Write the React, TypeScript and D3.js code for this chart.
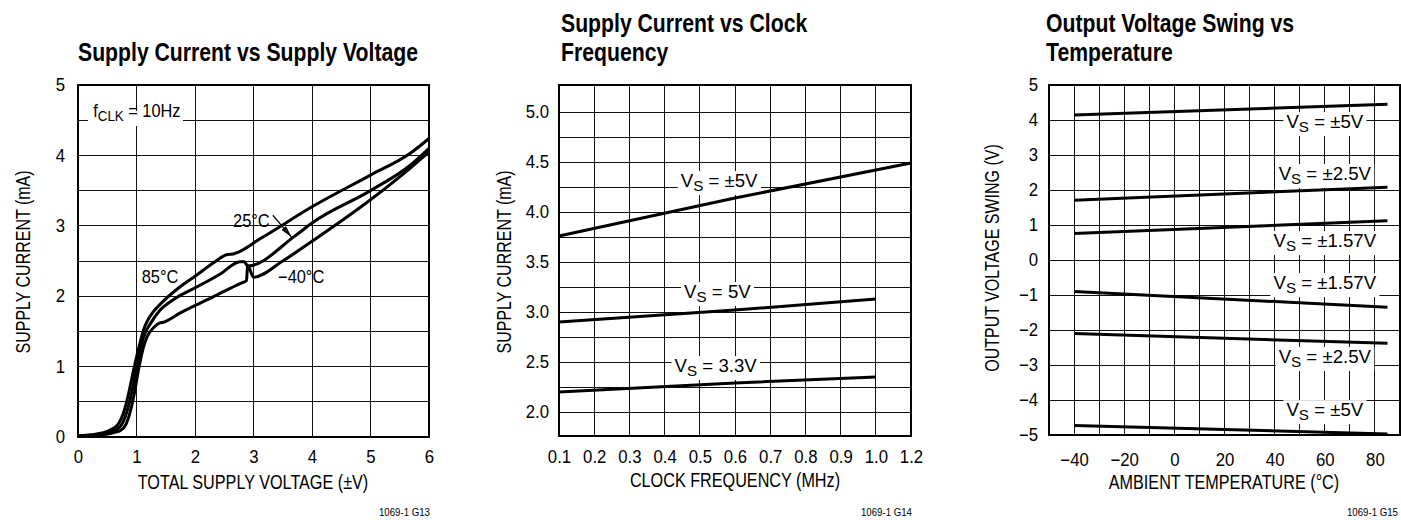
import React, { useEffect, useRef } from 'react';
import * as d3 from 'd3';

// panel 1: supply current (mA) vs total supply voltage (V), fCLK = 10Hz
const p1XTicks = [0, 1, 2, 3, 4, 5, 6];
const p1YTicks = [0, 1, 2, 3, 4, 5];
const p1Hot = [
  [0, 0.02], [0.3, 0.04], [0.5, 0.08], [0.6, 0.12], [0.7, 0.2], [0.78, 0.35], [0.86, 0.6],
  [0.95, 0.95], [1.05, 1.3], [1.12, 1.52], [1.18, 1.64], [1.29, 1.78], [1.46, 1.93], [1.74, 2.13],
  [2.03, 2.3], [2.31, 2.47], [2.54, 2.59], [2.65, 2.6], [3.14, 2.83], [4.0, 3.27], [5.0, 3.72],
  [5.68, 4.03], [6.0, 4.24],
];
const p1Room = [
  [0, 0.02], [0.3, 0.03], [0.5, 0.06], [0.65, 0.1], [0.75, 0.18], [0.85, 0.4], [0.93, 0.68],
  [1.0, 0.98], [1.08, 1.3], [1.15, 1.48], [1.23, 1.6], [1.4, 1.8], [1.63, 1.95], [2.03, 2.13],
  [2.44, 2.32], [2.77, 2.49], [2.84, 2.49], [2.9, 2.43], [3.7, 2.85], [4.0, 3.04], [5.0, 3.5],
  [5.68, 3.86], [6.0, 4.1],
];
const p1Cold = [
  [0, 0.02], [0.4, 0.03], [0.6, 0.06], [0.72, 0.09], [0.82, 0.18], [0.9, 0.38], [0.97, 0.65],
  [1.04, 0.98], [1.11, 1.25], [1.18, 1.42], [1.3, 1.56], [1.4, 1.62], [1.46, 1.63], [1.74, 1.76],
  [2.31, 1.99], [2.77, 2.18], [2.88, 2.22], [2.9, 2.44], [3.0, 2.27], [3.5, 2.5], [4.0, 2.78],
  [5.0, 3.37], [5.68, 3.82], [6.0, 4.05],
];

// panel 2: supply current (mA) vs clock frequency (MHz)
const p2XTicks = [0.1, 0.2, 0.3, 0.4, 0.5, 0.6, 0.7, 0.8, 0.9, 1.0, 1.1];
const p2XTickLabels = ['0.1', '0.2', '0.3', '0.4', '0.5', '0.6', '0.7', '0.8', '0.9', '1.0', '1.2'];
const p2YTicks = [2.0, 2.5, 3.0, 3.5, 4.0, 4.5, 5.0];
const p2Dual5 = [[0.1, 3.76], [0.6, 4.14], [1.1, 4.49]];
const p2Single5 = [[0.1, 2.9], [0.6, 3.02], [1.0, 3.13]];
const p2Single33 = [[0.1, 2.2], [0.6, 2.29], [1.0, 2.35]];

// panel 3: output voltage swing (V) vs ambient temperature (°C)
const p3XTicks = [-40, -20, 0, 20, 40, 60, 80];
const p3YTicks = [-5, -4, -3, -2, -1, 0, 1, 2, 3, 4, 5];
const p3Temps = [-40, 85];
const p3Pos5 = [4.14, 4.45];
const p3Pos25 = [1.71, 2.08];
const p3Pos157 = [0.76, 1.12];
const p3Neg157 = [-0.9, -1.35];
const p3Neg25 = [-2.1, -2.38];
const p3Neg5 = [-4.73, -4.97];

// no condensed face installed, so each text is squeezed with textLength afterwards (data-sq)
const FONT = "'Liberation Sans', Arial, sans-serif";

type Sel = d3.Selection<SVGGElement, unknown, null, undefined>;

function drawFrame(g: Sel, x: any, y: any, xGrid: number[], yGrid: number[]) {
  const [x0, x1] = x.range();
  const [y0, y1] = y.range();
  const grid = g.append('g').attr('stroke', '#111').attr('stroke-width', 1).attr('shape-rendering', 'crispEdges');
  grid.selectAll('.vx').data(xGrid).enter().append('line')
    .attr('x1', (d: number) => x(d)).attr('x2', (d: number) => x(d)).attr('y1', y0).attr('y2', y1);
  grid.selectAll('.hy').data(yGrid).enter().append('line')
    .attr('y1', (d: number) => y(d)).attr('y2', (d: number) => y(d)).attr('x1', x0).attr('x2', x1);
}

function drawBorder(g: Sel, x: any, y: any) {
  const [x0, x1] = x.range();
  const [y0, y1] = y.range();
  g.append('rect').attr('x', x0).attr('y', y1).attr('width', x1 - x0).attr('height', y0 - y1)
    .attr('fill', 'none').attr('stroke', '#000').attr('stroke-width', 2);
}

function axes(g: Sel, x: any, y: any, xTicks: number[], xFmt: (d: number, i: number) => string,
  yTicks: number[], yFmt: (d: number) => string, xPad: number, yPad: number) {
  const [y0] = y.range();
  const [x0] = x.range();
  g.append('g').attr('transform', `translate(0,${y0})`)
    .call(d3.axisBottom(x).tickValues(xTicks).tickFormat(xFmt as any).tickSize(0).tickPadding(xPad))
    .attr('font-size', 18).attr('font-family', FONT)
    .call((s) => s.select('.domain').remove())
    .selectAll('text').attr('data-sq', 0.93);
  g.append('g').attr('transform', `translate(${x0},0)`)
    .call(d3.axisLeft(y).tickValues(yTicks).tickFormat(yFmt as any).tickSize(0).tickPadding(yPad))
    .attr('font-size', 18).attr('font-family', FONT)
    .call((s) => s.select('.domain').remove())
    .selectAll('text').attr('data-sq', 0.93);
}

// V with subscript S; white box behind is added once the text is squeezed
function seriesLabel(g: Sel, cx: number, cy: number, rest: string) {
  const t = g.append('text').attr('class', 'boxed').attr('x', cx).attr('y', cy + 6).attr('text-anchor', 'middle')
    .attr('font-size', 19).attr('font-family', FONT).attr('data-sq', 0.98).style('white-space', 'pre');
  t.append('tspan').text('V');
  t.append('tspan').attr('font-size', 15.5).attr('dy', 4).text('S');
  t.append('tspan').attr('dy', -4).text(rest);
}

function note(g: Sel, x: number, y: number, text: string) {
  g.append('text').attr('x', x).attr('y', y).attr('font-size', 18).attr('font-family', FONT)
    .attr('data-sq', 0.91).text(text);
}

function yTitle(g: Sel, bx: number, cy: number, text: string) {
  g.append('text').attr('transform', `translate(${bx},${cy}) rotate(-90)`).attr('text-anchor', 'middle')
    .attr('font-size', 19.5).attr('font-family', FONT).attr('data-sq', 0.82).text(text);
}

function xTitle(g: Sel, cx: number, by: number, text: string) {
  g.append('text').attr('x', cx).attr('y', by).attr('text-anchor', 'middle')
    .attr('font-size', 19.5).attr('font-family', FONT).attr('data-sq', 0.83).text(text);
}

function title(g: Sel, x: number, lines: string[], firstBase: number) {
  lines.forEach((l, i) => {
    g.append('text').attr('x', x).attr('y', firstBase + i * 29).attr('font-size', 26.5)
      .attr('font-weight', 'bold').attr('font-family', FONT).attr('data-sq', 0.8).text(l);
  });
}

function footnote(g: Sel, rx: number, text: string) {
  g.append('text').attr('x', rx).attr('y', 516).attr('text-anchor', 'end')
    .attr('font-size', 11.5).attr('font-family', FONT).attr('data-sq', 0.84).text(text);
}

export default function App() {
  const ref = useRef<SVGSVGElement>(null);

  useEffect(() => {
    document.body.style.margin = '0';
    document.body.style.overflow = 'hidden';
    const svg = d3.select(ref.current);
    svg.selectAll('*').remove();
    const root = svg.append('g') as unknown as Sel;

    root.append('defs').append('marker').attr('id', 'arrow').attr('viewBox', '0 0 12 6')
      .attr('refX', 12).attr('refY', 3).attr('markerWidth', 12).attr('markerHeight', 6)
      .attr('markerUnits', 'userSpaceOnUse').attr('orient', 'auto')
      .append('path').attr('d', 'M0,0 L12,3 L0,6 Z').attr('fill', '#000');

    const pen = (g: Sel, pts: number[][], x: any, y: any, curve: any) => {
      const line = d3.line<number[]>().x((d) => x(d[0])).y((d) => y(d[1])).curve(curve);
      g.append('path').attr('d', line(pts) as string).attr('fill', 'none').attr('stroke', '#000')
        .attr('stroke-width', 3).attr('stroke-linejoin', 'round');
    };

    // ---------- panel 1 ----------
    {
      const g = root.append('g') as unknown as Sel;
      const x = d3.scaleLinear().domain([0, 6]).range([78, 429]);
      const y = d3.scaleLinear().domain([0, 5]).range([437, 85]);
      drawFrame(g, x, y, d3.range(1, 6), d3.range(0.5, 5, 0.5));
      // fCLK note box
      g.append('rect').attr('x', 88).attr('y', 111).attr('width', 95).attr('height', 15).attr('fill', '#fff');
      const t = g.append('text').attr('x', x(0.26)).attr('y', y(4.55)).attr('font-size', 19).attr('font-family', FONT)
        .attr('data-sq', 0.86).style('white-space', 'pre');
      t.append('tspan').text('f');
      t.append('tspan').attr('font-size', 15.5).attr('dy', 4).text('CLK');
      t.append('tspan').attr('dy', -4).text(' = 10Hz');
      drawBorder(g, x, y);
      [p1Hot, p1Room, p1Cold].forEach((s) => pen(g, s, x, y, d3.curveMonotoneX));
      axes(g, x, y, p1XTicks, (d) => String(d), p1YTicks, (d) => String(d), 13, 13);
      note(g, x(1.09), y(2.19), '85°C');
      note(g, x(3.42), y(2.19), '−40°C');
      note(g, x(2.65), y(2.98), '25°C');
      g.append('line').attr('x1', x(3.33)).attr('y1', y(3.15)).attr('x2', x(3.65)).attr('y2', y(2.84))
        .attr('stroke', '#000').attr('stroke-width', 1.2).attr('marker-end', 'url(#arrow)');
      title(g, 78, ['Supply Current vs Supply Voltage'], 61);
      xTitle(g, 253, 489, 'TOTAL SUPPLY VOLTAGE (±V)');
      yTitle(g, 30, 262, 'SUPPLY CURRENT (mA)');
      footnote(g, 430, '1069-1 G13');
    }

    // ---------- panel 2 ----------
    {
      const g = root.append('g') as unknown as Sel;
      const x = d3.scaleLinear().domain([0.1, 1.1]).range([559, 911]);
      const y = d3.scaleLinear().domain([1.76, 5.27]).range([436, 85]);
      drawFrame(g, x, y, p2XTicks.slice(1, -1), d3.range(2.0, 5.01, 0.25));
      seriesLabel(g, x(0.555), y(4.31), ' = ±5V');
      seriesLabel(g, x(0.55), y(3.2), ' = 5V');
      seriesLabel(g, x(0.545), y(2.46), ' = 3.3V');
      drawBorder(g, x, y);
      [p2Dual5, p2Single5, p2Single33].forEach((s) => pen(g, s, x, y, d3.curveLinear));
      axes(g, x, y, p2XTicks, (_d, i) => p2XTickLabels[i], p2YTicks, (d) => d3.format('.1f')(d), 14, 10);
      title(g, 561, ['Supply Current vs Clock', 'Frequency'], 32);
      xTitle(g, 735, 487, 'CLOCK FREQUENCY (MHz)');
      yTitle(g, 511, 262, 'SUPPLY CURRENT (mA)');
      footnote(g, 912, '1069-1 G14');
    }

    // ---------- panel 3 ----------
    {
      const g = root.append('g') as unknown as Sel;
      const x = d3.scaleLinear().domain([-50, 90]).range([1049, 1400]);
      const y = d3.scaleLinear().domain([-5, 5]).range([435, 85]);
      drawFrame(g, x, y, d3.range(-40, 81, 10), d3.range(-4, 5, 1));
      seriesLabel(g, x(60), y(3.94), ' = ±5V');
      seriesLabel(g, x(60), y(2.46), ' = ±2.5V');
      seriesLabel(g, x(60), y(0.54), ' = ±1.57V');
      seriesLabel(g, x(60), y(-0.66), ' = ±1.57V');
      seriesLabel(g, x(60), y(-2.77), ' = ±2.5V');
      seriesLabel(g, x(60), y(-4.29), ' = ±5V');
      drawBorder(g, x, y);
      [p3Pos5, p3Pos25, p3Pos157, p3Neg157, p3Neg25, p3Neg5].forEach((vals) =>
        pen(g, p3Temps.map((t, i) => [t, vals[i]]), x, y, d3.curveLinear));
      axes(g, x, y, p3XTicks, (d) => String(d).replace('-', '−'), p3YTicks, (d) => String(d).replace('-', '−'), 18, 11);
      title(g, 1046, ['Output Voltage Swing vs', 'Temperature'], 32);
      xTitle(g, 1224, 489, 'AMBIENT TEMPERATURE (°C)');
      yTitle(g, 999, 258, 'OUTPUT VOLTAGE SWING (V)');
      footnote(g, 1398, '1069-1 G15');
    }

    // squeeze every text to a narrow face
    svg.selectAll<SVGTextElement, unknown>('text').each(function () {
      const k = +(this.getAttribute('data-sq') || 1);
      if (k === 1) return;
      const len = this.getComputedTextLength();
      this.setAttribute('textLength', String(len * k));
      this.setAttribute('lengthAdjust', 'spacingAndGlyphs');
    });
    svg.selectAll<SVGTextElement, unknown>('text.boxed').each(function () {
      const bb = this.getBBox();
      d3.select(this.parentNode as SVGGElement).insert('rect', () => this)
        .attr('x', bb.x - 3).attr('y', bb.y + 1).attr('width', bb.width + 6).attr('height', bb.height)
        .attr('fill', '#fff');
    });
  }, []);

  return (
    <div style={{ position: 'absolute', left: 0, top: 0 }}>
      <svg ref={ref} width={1401} height={520} style={{ display: 'block', background: '#fff' }} />
    </div>
  );
}
